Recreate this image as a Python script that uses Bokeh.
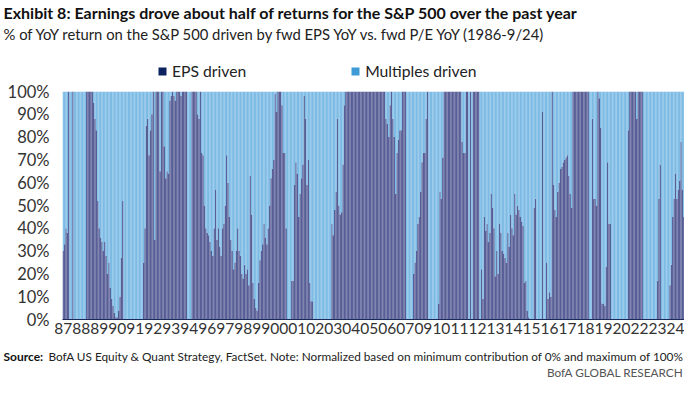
import pandas as pd
from bokeh.plotting import figure
from bokeh.layouts import column
from bokeh.models import (Range1d, ColumnDataSource, FixedTicker, Label, Legend,
                          LegendItem, PrintfTickFormatter)
from bokeh.embed import file_html
from bokeh.resources import INLINE

# ---------------- data ----------------
start_month = "1987-05"
# % of YoY S&P 500 return driven by fwd EPS growth (monthly, normalized 0..100)
eps_driven = [
    30, 33, 40, 38, 100, 0, 0, 100, 0, 0, 0, 0, 0, 0, 0, 0, 0, 100, 100, 100, 100, 100,
    95, 88, 83, 52, 40, 36, 34, 30, 34, 28, 20, 25, 14, 9, 6, 3, 1, 1, 4, 10, 27, 52,
    0, 0, 0, 0, 0, 0, 0, 0, 0, 0, 0, 0, 0, 0,
    25, 40, 85, 88, 72, 83, 90, 100, 35, 100, 100, 100, 65, 100, 100, 76, 62, 65, 64, 96,
    98, 100, 98, 96, 100, 100, 100, 98, 100, 100, 100,
    100, 0, 0, 0, 100, 100, 100, 100, 90, 88, 100, 73, 72, 50, 40, 38, 37, 34, 30, 28,
    40, 57, 35, 40, 32, 28, 40, 42, 50, 72, 60, 45, 35, 30, 22, 25, 30, 40, 30, 28,
    20, 18, 24, 20, 22, 15,
    63, 46, 16, 9, 5, 4, 16, 26, 30, 33, 42, 36, 33, 40, 50, 62, 66, 70, 99, 91,
    100, 100, 100, 94, 73, 73, 40, 0, 0, 0, 17, 17, 59, 69, 64, 45, 55, 62, 68, 98,
    88, 59, 70, 16, 8,
    8, 0, 0, 0, 0, 0, 0, 0, 0, 0, 0, 0, 0, 0, 42, 37, 48, 56, 88, 50, 46, 47, 68, 94,
    100, 100, 100, 100, 100, 100, 100, 100, 100, 100, 100, 100, 100, 100, 100, 100,
    100, 100, 100, 100, 100, 100,
    100, 100, 100, 100, 100, 100, 100, 88, 86, 80, 94, 100, 88, 80, 55, 73, 79, 83, 83,
    100, 100, 100, 0, 0, 0, 0, 0, 20, 25, 30, 42, 45, 56, 69, 73, 73, 88, 100,
    0, 0, 0, 0, 0, 0, 0, 7,
    56, 53, 71, 100, 100, 100, 100, 100, 100, 100, 100, 100, 100, 100, 100, 100,
    78, 73, 73, 100, 100, 0, 100, 0, 100, 100, 100, 100, 100,
    0, 22, 9, 45, 39, 42, 34, 38, 55, 49, 40, 19, 30, 20, 42, 38, 30,
    29, 27, 25, 38, 32, 46, 40, 37, 55, 46, 50, 48, 45, 43, 41, 16, 17, 4, 1, 0,
    0, 0, 49, 53, 0, 0, 0, 0, 91, 0, 0, 25, 9, 12, 10, 100, 59, 48, 45, 56,
    60, 66, 67, 69, 70, 71,
    72, 63, 55, 49, 100, 100, 100, 100, 100, 100, 100, 100, 100, 100, 100, 100,
    0, 0, 88, 53, 53, 50, 100, 97, 84, 7, 7, 6, 23, 69, 42, 42,
    0, 0, 0, 0, 0, 0, 0, 0, 0, 0, 0, 0, 83,
    100, 100, 100, 100, 100, 88, 100, 100, 100, 100, 0, 0, 0, 0, 0, 0, 0, 0, 0, 0,
    17, 53, 68, 0, 0, 0, 0, 0, 0, 15, 24, 45, 53, 64, 53, 57, 61, 78, 57, 45,
]
multiples_driven = [100 - v for v in eps_driven]
n = len(eps_driven)
months = pd.period_range(start_month, periods=n, freq="M")

label_every = 13  # category-axis label interval
x_ticks = list(range(0, n, label_every))
x_tick_labels = [f"{months[i].year % 100:02d}" for i in x_ticks]
y_ticks = list(range(0, 101, 10))

series_names = ["EPS driven", "Multiples driven"]
title_text = "Exhibit 8: Earnings drove about half of returns for the S&P 500 over the past year"
subtitle_text = "% of YoY return on the S&P 500 driven by fwd EPS YoY vs. fwd P/E YoY (1986-9/24)"
source_bold = "Source:"
source_text = ("BofA US Equity & Quant Strategy, FactSet. Note: Normalized based on minimum "
               "contribution of 0% and maximum of 100%")
brand_text = "BofA GLOBAL RESEARCH"

# ---------------- style ----------------
FONT = "Lato"
eps_bar = "#585e96"
mult_bar = "#7dbbe5"
eps_key = "#0c215f"
mult_key = "#3f9bd8"

W = 684
HEADER_H, MAIN_H, FOOTER_H = 81, 262, 38
LEFT, TOP, BOTTOM = 62, 10, 24
NAN = float("nan")


def blank_fig(h):
    f = figure(width=W, height=h, output_backend="svg", toolbar_location=None,
               x_range=Range1d(0, W), y_range=Range1d(h, 0),
               x_axis_type=None, y_axis_type=None, min_border=0)
    f.frame_align = False
    f.outline_line_color = None
    f.grid.visible = False
    f.background_fill_color = "white"
    f.border_fill_color = "white"
    return f


def add_text(f, x, y, text, size, bold=False, color="#222222", align="left"):
    f.add_layout(Label(x=x, y=y, text=text, text_font=FONT, text_font_size=size,
                       text_font_style="bold" if bold else "normal",
                       text_color=color, text_align=align, text_baseline="middle"))


# ---------- header ----------
header = blank_fig(HEADER_H)
add_text(header, 3, 12, title_text, "16px", bold=True, color="#111111")
add_text(header, 3, 33, subtitle_text, "14.8px", color="#222222")
k1 = header.vbar(x=[NAN], top=[NAN], width=1, fill_color=eps_key, line_color=None)
k2 = header.vbar(x=[NAN], top=[NAN], width=1, fill_color=mult_key, line_color=None)
legend = Legend(items=[LegendItem(label=series_names[0], renderers=[k1]),
                       LegendItem(label=series_names[1], renderers=[k2])],
                orientation="horizontal", location=(157, 1),
                glyph_width=10, glyph_height=10, label_standoff=5, spacing=104,
                padding=0, margin=0, border_line_color=None, background_fill_alpha=0,
                label_text_font=FONT, label_text_font_size="15.7px",
                label_text_color="#222222", label_height=18)
header.add_layout(legend)

# ---------- main chart ----------
p = figure(width=W, height=MAIN_H, output_backend="svg", toolbar_location=None,
           x_range=Range1d(-0.5, n - 0.5), y_range=Range1d(0, 100),
           min_border_left=LEFT, min_border_right=0,
           min_border_top=TOP, min_border_bottom=BOTTOM)
p.frame_align = False
p.outline_line_color = None
p.background_fill_color = "white"
p.border_fill_color = "white"
p.xgrid.grid_line_color = None
p.ygrid.grid_line_color = None

src = ColumnDataSource(dict(x=list(range(n)), eps=eps_driven, mult=multiples_driven))
p.vbar(x="x", bottom=0, top="eps", width=1.0, fill_color=eps_bar, line_color=None, source=src)
p.vbar(x="x", bottom="eps", top=100, width=1.0, fill_color=mult_bar, line_color=None, source=src)

p.yaxis.ticker = FixedTicker(ticks=y_ticks)
p.yaxis.formatter = PrintfTickFormatter(format="%d%%")
p.yaxis.axis_line_color = None
p.yaxis.major_tick_line_color = None
p.yaxis.minor_tick_line_color = None
p.yaxis.major_tick_out = 0
p.yaxis.major_label_standoff = 13
p.yaxis.major_label_text_font = FONT
p.yaxis.major_label_text_font_size = "16.5px"
p.yaxis.major_label_text_color = "#333333"

p.xaxis.ticker = FixedTicker(ticks=x_ticks)
p.xaxis.major_label_overrides = {t: lab for t, lab in zip(x_ticks, x_tick_labels)}
p.xaxis.axis_line_color = "#1c2a5a"
p.xaxis.major_tick_line_color = None
p.xaxis.minor_tick_line_color = None
p.xaxis.major_tick_out = 0
p.xaxis.major_label_standoff = 3
p.xaxis.major_label_text_font = FONT
p.xaxis.major_label_text_font_size = "15.5px"
p.xaxis.major_label_text_color = "#333333"

# ---------- footer ----------
footer = blank_fig(FOOTER_H)
add_text(footer, 3, 13, source_bold, "12px", bold=True, color="#111111")
add_text(footer, 48, 13, source_text, "11.8px", color="#222222")
add_text(footer, W - 1, 29, brand_text, "11.8px", color="#555555", align="right")

layout = column(header, p, footer, spacing=0)
open("out.html", "w").write(file_html(layout, INLINE))
